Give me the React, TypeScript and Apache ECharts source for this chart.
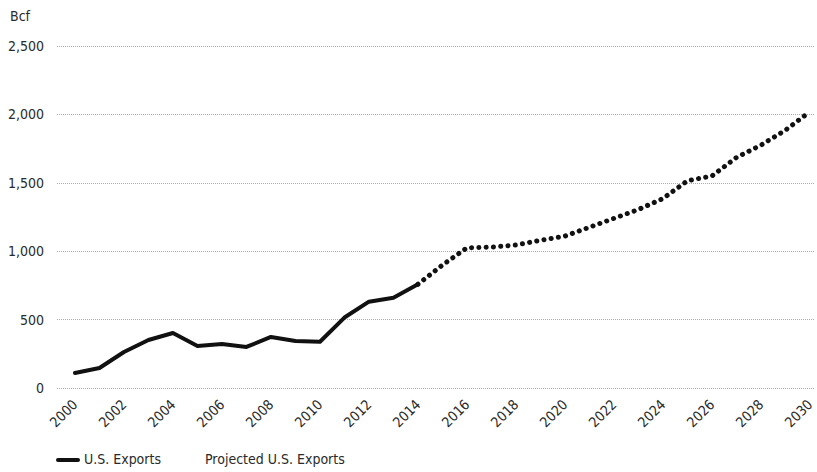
import React, { useEffect, useRef } from "react";
import * as echarts from "echarts";

const actualYears = [2000, 2001, 2002, 2003, 2004, 2005, 2006, 2007, 2008, 2009, 2010, 2011, 2012, 2013, 2014];
const actualValues = [110, 146, 263, 351, 402, 307, 322, 300, 373, 344, 338, 515, 631, 660, 758];
const projYears = [2014, 2015, 2016, 2017, 2018, 2019, 2020, 2021, 2022, 2023, 2024, 2025, 2026, 2027, 2028, 2029, 2030];
const projValues = [758, 899, 1025, 1030, 1045, 1080, 1110, 1175, 1240, 1305, 1385, 1515, 1550, 1685, 1775, 1885, 2020];
const xTickLabels = [2000, 2002, 2004, 2006, 2008, 2010, 2012, 2014, 2016, 2018, 2020, 2022, 2024, 2026, 2028, 2030];
const yTicks = [0, 500, 1000, 1500, 2000, 2500];

const FONT = "'Liberation Sans Narrow', 'DejaVu Sans Condensed', 'Roboto', sans-serif";
const TXT = "#2a2a2a";

export default function App() {
  const ref = useRef<HTMLDivElement>(null);
  useEffect(() => {
    if (!ref.current) return;
    const chart = echarts.init(ref.current, null, { renderer: "svg" });
    chart.setOption({
      animation: false,
      backgroundColor: "#ffffff",
      textStyle: { fontFamily: FONT },
      grid: { left: 57, right: 0, top: 46, bottom: 84, containLabel: false },
      xAxis: {
        type: "value",
        min: 1999.267,
        max: 2030.204,
        axisLine: { show: false },
        axisTick: { show: false },
        splitLine: { show: false },
        axisLabel: {
          customValues: xTickLabels,
          rotate: 45,
          margin: 14,
          color: TXT,
          fontSize: 14,
          fontFamily: FONT,
          formatter: (v: number) => String(v),
        },
      },
      yAxis: {
        type: "value",
        min: yTicks[0],
        max: yTicks[yTicks.length - 1],
        interval: 500,
        axisLine: { show: false },
        axisTick: { show: false },
        splitLine: { lineStyle: { color: "#ababab", type: [1, 1], width: 1 } },
        axisLabel: {
          margin: 13,
          color: TXT,
          fontSize: 14,
          fontFamily: FONT,
          formatter: (v: number) => v.toLocaleString("en-US"),
        },
      },
      series: [
        {
          name: "U.S. Exports",
          type: "line",
          data: actualYears.map((y, i) => [y, actualValues[i]]),
          symbol: "none",
          lineStyle: { color: "#111", width: 4, join: "round", cap: "round" },
          z: 3,
        },
        {
          name: "Projected U.S. Exports",
          type: "line",
          data: projYears.map((y, i) => [y, projValues[i]]),
          symbol: "none",
          lineStyle: { color: "#111", width: 5, type: [0.1, 7.2], cap: "round", join: "round" },
          z: 2,
        },
      ],
      graphic: [
        { type: "text", left: 10, top: 9, style: { text: "Bcf", fill: TXT, font: `14px ${FONT}` } },
        { type: "line", shape: { x1: 58, y1: 460, x2: 78, y2: 460 }, style: { stroke: "#111", lineWidth: 4, lineCap: "round" } },
        { type: "text", left: 84, top: 452, style: { text: "U.S. Exports", fill: TXT, font: `14px ${FONT}` } },
        { type: "text", left: 205, top: 452, style: { text: "Projected U.S. Exports", fill: TXT, font: `14px ${FONT}` } },
      ],
    });
    return () => chart.dispose();
  }, []);
  return <div ref={ref} style={{ position: "fixed", left: 0, top: 0, width: 817, height: 472 }} />;
}
